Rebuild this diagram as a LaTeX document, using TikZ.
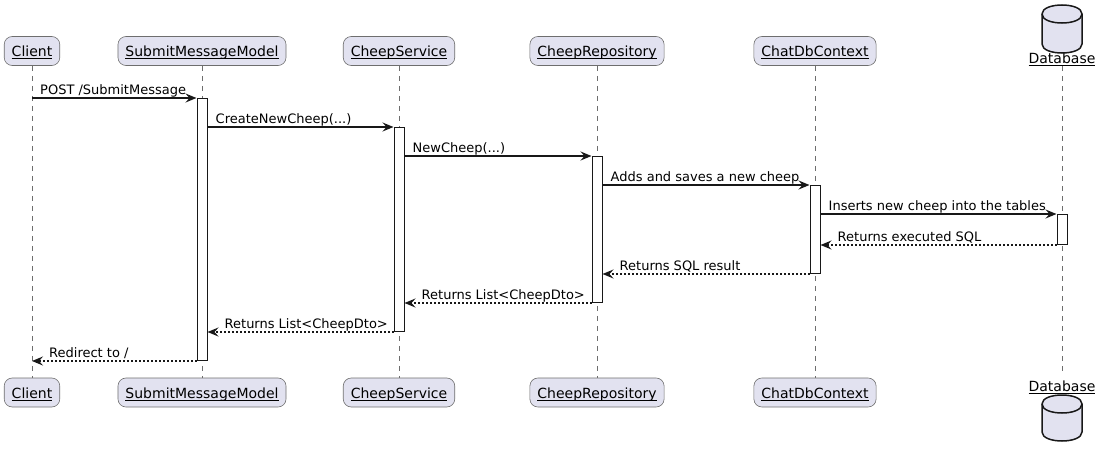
\documentclass[tikz,border=0pt]{standalone}
\usepackage{fontspec}
\setmainfont{DejaVu Sans}
\usetikzlibrary{arrows.meta,calc}
\definecolor{partfill}{HTML}{E2E2F0}
\definecolor{ink}{HTML}{181818}
\definecolor{soft}{HTML}{6E6E6E}
\newcommand\ulx[1]{\setbox0=\hbox{#1}\rlap{\rule[-2.8pt]{\wd0}{1pt}}\box0}
\begin{document}
\begin{tikzpicture}[x=1pt,y=-1pt,
  part/.style={draw=soft, line width=0.6pt, fill=partfill, rounded corners=8pt,
    minimum height=29pt, inner xsep=7.5pt, inner ysep=0pt, text height=12pt, text depth=1pt,
    font=\fontsize{14}{16}\selectfont},
  dblabel/.style={anchor=base, inner sep=0pt, font=\fontsize{14}{16}\selectfont},
  lifeline/.style={draw=soft, line width=0.6pt, dash pattern=on 5pt off 5pt},
  actbar/.style={draw=ink, line width=1pt, fill=white, minimum width=10pt, inner sep=0pt, anchor=north},
  msg/.style={draw=ink, line width=1.5pt, -{Stealth[length=11pt,width=9pt,inset=4pt]}},
  ret/.style={msg, dash pattern=on 2pt off 2pt},
  lbl/.style={anchor=base west, inner sep=0pt, font=\fontsize{13}{15}\selectfont},
  db/.style={draw=ink, line width=1.5pt, fill=partfill}]
\useasboundingbox (0,0) rectangle (1098,455);

% participants (top)
\node[part] (pC)   at (32,51)    {\ulx{Client}};
\node[part] (pS)   at (202,51)   {\ulx{SubmitMessageModel}};
\node[part] (pCS)  at (399,51)   {\ulx{CheepService}};
\node[part] (pCR)  at (597,51)   {\ulx{CheepRepository}};
\node[part] (pCDC) at (815,51)   {\ulx{ChatDbContext}};
\node[dblabel] (pDB) at (1062,63) {\ulx{Database}};
% participants (bottom)
\node[part] (qC)   at (32,392.5)  {\ulx{Client}};
\node[part] (qS)   at (202,392.5) {\ulx{SubmitMessageModel}};
\node[part] (qCS)  at (399,392.5) {\ulx{CheepService}};
\node[part] (qCR)  at (597,392.5) {\ulx{CheepRepository}};
\node[part] (qCDC) at (815,392.5) {\ulx{ChatDbContext}};
\node[dblabel] (qDB) at (1062,391) {\ulx{Database}};

% database cylinders
\path[db] (1042,14) .. controls (1042,2) and (1082,2) .. (1082,14) -- (1082,44)
  .. controls (1082,56) and (1042,56) .. (1042,44) -- cycle;
\draw[draw=ink, line width=1.5pt] (1042,14) .. controls (1042,26) and (1082,26) .. (1082,14);
\path[db] (1042,404) .. controls (1042,392) and (1082,392) .. (1082,404) -- (1082,432)
  .. controls (1082,444) and (1042,444) .. (1042,432) -- cycle;
\draw[draw=ink, line width=1.5pt] (1042,404) .. controls (1042,416) and (1082,416) .. (1082,404);

% lifelines
\draw[lifeline] (pC.south) -- (qC.north);
\draw[lifeline] (pS.south) -- (qS.north);
\draw[lifeline] (pCS.south) -- (qCS.north);
\draw[lifeline] (pCR.south) -- (qCR.north);
\draw[lifeline] (pCDC.south) -- (qCDC.north);
\draw[lifeline] (pDB.south) -- ($(qDB.north)+(0,-8)$);

% activation bars
\node[actbar, minimum height=262pt] (bS)   at (202,98)  {};
\node[actbar, minimum height=204pt] (bCS)  at (399,127) {};
\node[actbar, minimum height=146pt] (bCR)  at (597,156) {};
\node[actbar, minimum height=88pt]  (bCDC) at (815,185) {};
\node[actbar, minimum height=30pt]  (bDB)  at (1062,214) {};

% messages
\coordinate (m1s) at (pC.south |- bS.north);
\draw[msg] (m1s) -- (bS.north west);
\node[lbl] at ($(m1s)+(8,-4)$) {POST /SubmitMessage};

\coordinate (m2s) at (bCS.north west -| bS.east);
\draw[msg] (m2s) -- (bCS.north west);
\node[lbl] at ($(m2s)+(8,-4)$) {CreateNewCheep(...)};

\coordinate (m3s) at (bCR.north west -| bCS.east);
\draw[msg] (m3s) -- (bCR.north west);
\node[lbl] at ($(m3s)+(8,-4)$) {NewCheep(...)};

\coordinate (m4s) at (bCDC.north west -| bCR.east);
\draw[msg] (m4s) -- (bCDC.north west);
\node[lbl] at ($(m4s)+(8,-4)$) {Adds and saves a new cheep};

\coordinate (m5s) at (bDB.north west -| bCDC.east);
\draw[msg] (m5s) -- (bDB.north west);
\node[lbl] at ($(m5s)+(8,-4)$) {Inserts new cheep into the tables};

\coordinate (m6e) at (bDB.south west -| bCDC.east);
\draw[ret] (bDB.south west) -- (m6e);
\node[lbl] at ($(m6e)+(17,-4)$) {Returns executed SQL};

\coordinate (m7e) at (bCDC.south west -| bCR.east);
\draw[ret] (bCDC.south west) -- (m7e);
\node[lbl] at ($(m7e)+(17,-4)$) {Returns SQL result};

\coordinate (m8e) at (bCR.south west -| bCS.east);
\draw[ret] (bCR.south west) -- (m8e);
\node[lbl] at ($(m8e)+(17,-4)$) {Returns List<CheepDto>};

\coordinate (m9e) at (bCS.south west -| bS.east);
\draw[ret] (bCS.south west) -- (m9e);
\node[lbl] at ($(m9e)+(17,-4)$) {Returns List<CheepDto>};

\coordinate (m10e) at (bS.south west -| pC.south);
\draw[ret] (bS.south west) -- (m10e);
\node[lbl] at ($(m10e)+(17,-4)$) {Redirect to /};
\end{tikzpicture}
\end{document}
